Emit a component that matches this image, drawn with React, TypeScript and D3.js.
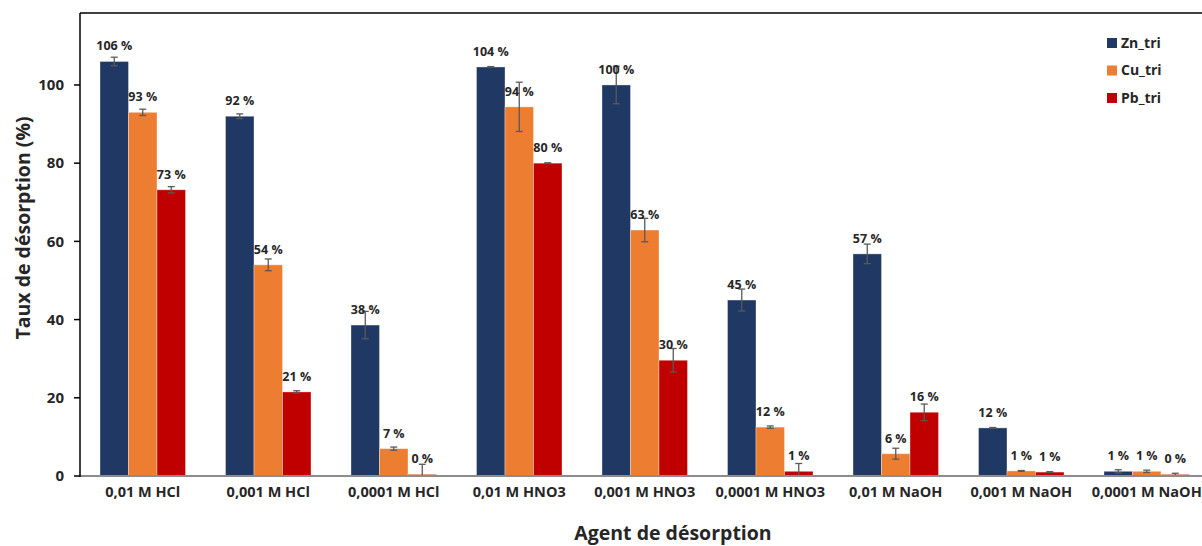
import React from "react";
import * as d3 from "d3";

const categories = [
  "0,01 M HCl", "0,001 M HCl", "0,0001 M HCl",
  "0,01 M HNO3", "0,001 M HNO3", "0,0001 M HNO3",
  "0,01 M NaOH", "0,001 M NaOH", "0,0001 M NaOH",
];
const seriesNames = ["Zn_tri", "Cu_tri", "Pb_tri"];
const seriesColors = ["#203864", "#ED7D31", "#C00000"];
const znValues = [106.0, 92.0, 38.6, 104.6, 100.0, 45.0, 56.8, 12.3, 1.2];
const cuValues = [93.0, 54.0, 7.0, 94.4, 62.9, 12.5, 5.7, 1.3, 1.2];
const pbValues = [73.2, 21.5, 0.4, 80.0, 29.6, 1.2, 16.3, 1.0, 0.4];
const znErrors = [1.1, 0.6, 3.5, 0.1, 4.8, 2.8, 2.5, 0.1, 0.4];
const cuErrors = [0.8, 1.5, 0.4, 6.3, 3.0, 0.3, 1.4, 0.1, 0.3];
const pbErrors = [0.8, 0.3, 2.6, 0.1, 3.0, 2.0, 2.1, 0.1, 0.3];
const znLabels = ["106 %", "92 %", "38 %", "104 %", "100 %", "45 %", "57 %", "12 %", "1 %"];
const cuLabels = ["93 %", "54 %", "7 %", "94 %", "63 %", "12 %", "6 %", "1 %", "1 %"];
const pbLabels = ["73 %", "21 %", "0 %", "80 %", "30 %", "1 %", "16 %", "1 %", "0 %"];
const yTicks = [0, 20, 40, 60, 80, 100];

const W = 1202;
const H = 546;
const FONT = "'Open Sans', 'Liberation Sans', sans-serif";

export default function App() {
  const left = 80;
  const top = 13;
  const bottom = 476;
  const band = 125.5;
  const x0 = d3
    .scaleBand<string>()
    .domain(categories)
    .range([left, left + band * categories.length])
    .paddingInner(0)
    .paddingOuter(0);
  const inner = d3
    .scaleBand<string>()
    .domain(seriesNames)
    .range([0, 85.5]);
  const y = d3.scaleLinear().domain([0, 118.4]).range([bottom, top]);

  const values = [znValues, cuValues, pbValues];
  const errors = [znErrors, cuErrors, pbErrors];
  const labels = [znLabels, cuLabels, pbLabels];

  const bars: React.ReactNode[] = [];
  const errs: React.ReactNode[] = [];
  const texts: React.ReactNode[] = [];
  categories.forEach((c, ci) => {
    const gx = (x0(c) as number) + (band - 85.5) / 2;
    seriesNames.forEach((s, si) => {
      const v = values[si][ci];
      const e = errors[si][ci];
      const bx = gx + (inner(s) as number);
      const bw = inner.bandwidth();
      const cx = bx + bw / 2;
      bars.push(
        <rect
          key={`b${ci}-${si}`}
          x={bx}
          y={y(v)}
          width={bw}
          height={bottom - y(v)}
          fill={seriesColors[si]}
          stroke="#ffffff"
          strokeOpacity={0.35}
          strokeWidth={1}
        />
      );
      const yt = y(v + e);
      const yb = y(Math.max(0, v - e));
      errs.push(
        <g key={`e${ci}-${si}`} stroke="#595959" strokeWidth={1.3}>
          <line x1={cx} x2={cx} y1={yt} y2={yb} />
          <line x1={cx - 3.5} x2={cx + 3.5} y1={yt} y2={yt} />
          <line x1={cx - 3.5} x2={cx + 3.5} y1={yb} y2={yb} />
        </g>
      );
      texts.push(
        <text
          key={`t${ci}-${si}`}
          x={cx}
          y={y(v) - 11}
          textAnchor="middle"
          fontSize={12.5}
          fontWeight={700}
          fill="#262626"
          fontFamily={FONT}
        >
          {labels[si][ci]}
        </text>
      );
    });
  });

  return (
    <svg
      width={W}
      height={H}
      style={{ position: "absolute", left: 0, top: 0, background: "#fff" }}
    >
      {/* frame */}
      <line x1={left} x2={W} y1={top} y2={top} stroke="#000" strokeWidth={1.5} />
      {bars}
      {errs}
      {texts}
      {/* x axis */}
      <line x1={left} x2={W} y1={bottom} y2={bottom} stroke="#8c8c8c" strokeWidth={2} />
      {/* y axis */}
      <line x1={left} x2={left} y1={top} y2={bottom + 1} stroke="#000" strokeWidth={1.5} />
      {yTicks.map((t) => (
        <g key={`yt${t}`}>
          <line x1={left - 6} x2={left} y1={y(t)} y2={y(t)} stroke="#000" strokeWidth={1.5} />
          <text
            x={left - 16}
            y={y(t)}
            dy="0.35em"
            textAnchor="end"
            fontSize={15}
            fontWeight={700}
            fill="#262626"
            fontFamily={FONT}
          >
            {t}
          </text>
        </g>
      ))}
      {categories.map((c) => (
        <text
          key={`xc${c}`}
          x={(x0(c) as number) + band / 2}
          y={497}
          textAnchor="middle"
          fontSize={14.5}
          fontWeight={700}
          fill="#262626"
          fontFamily={FONT}
        >
          {c}
        </text>
      ))}
      <text
        transform={`translate(23,${228}) rotate(-90)`}
        textAnchor="middle"
        dy="0.35em"
        fontSize={19.5}
        fontWeight={700}
        fill="#262626"
        fontFamily={FONT}
      >
        Taux de désorption (%)
      </text>
      <text
        x={673}
        y={540}
        textAnchor="middle"
        fontSize={19.5}
        fontWeight={700}
        fill="#262626"
        fontFamily={FONT}
      >
        Agent de désorption
      </text>
      {seriesNames.map((s, i) => (
        <g key={`lg${s}`} transform={`translate(1107,${43 + i * 27.5})`}>
          <rect x={0} y={-5} width={10} height={10} fill={seriesColors[i]} />
          <text
            x={14}
            y={0}
            dy="0.35em"
            fontSize={14}
            fontWeight={700}
            fill="#262626"
            fontFamily={FONT}
          >
            {s}
          </text>
        </g>
      ))}
    </svg>
  );
}
